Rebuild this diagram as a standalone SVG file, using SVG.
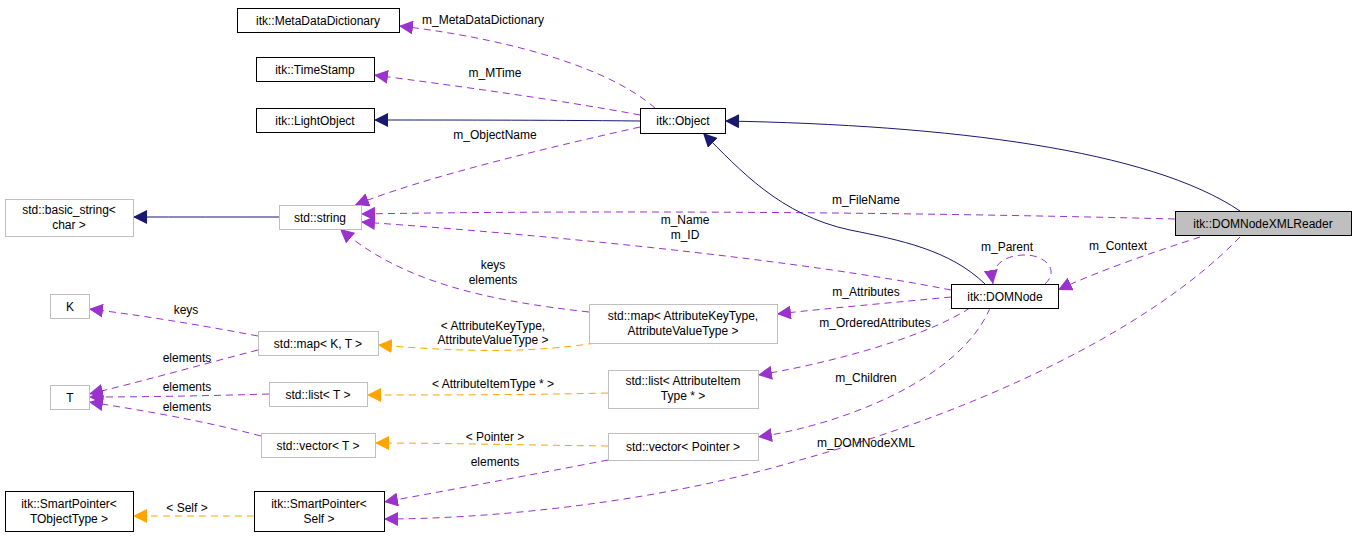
<svg xmlns="http://www.w3.org/2000/svg" width="1356" height="542" viewBox="0 0 1356 542">
<style>
text{font-family:"Liberation Sans",Arial,sans-serif;font-size:12px;fill:#000;text-anchor:middle}
.n{fill:#fff;stroke:#000;stroke-width:1}
.g{fill:#fff;stroke:#bfbfbf;stroke-width:1}
.f{fill:#bfbfbf;stroke:#000;stroke-width:1}
.p{fill:none;stroke:#9a32cd;stroke-dasharray:7,5;marker-end:url(#mp)}
.o{fill:none;stroke:#ffa500;stroke-dasharray:7,5;marker-end:url(#mo)}
.b{fill:none;stroke:#191970;marker-end:url(#mb)}
</style>
<defs>
<marker id="mp" viewBox="0 0 10 10" refX="10" refY="5" markerWidth="14" markerHeight="14" markerUnits="userSpaceOnUse" orient="auto"><path d="M0,0L10,5L0,10z" fill="#9a32cd"/></marker>
<marker id="mo" viewBox="0 0 10 10" refX="10" refY="5" markerWidth="14" markerHeight="14" markerUnits="userSpaceOnUse" orient="auto"><path d="M0,0L10,5L0,10z" fill="#ffa500"/></marker>
<marker id="mb" viewBox="0 0 10 10" refX="10" refY="5" markerWidth="14" markerHeight="14" markerUnits="userSpaceOnUse" orient="auto"><path d="M0,0L10,5L0,10z" fill="#191970"/></marker>
</defs>
<rect width="1356" height="542" fill="#fff"/>
<g id="connectors">
<path class="p" d="M655,108C600,60 480,35 399,26"/>
<path class="p" d="M640,115C560,100 450,85 374,75"/>
<path class="p" d="M640,127C560,145 430,175 355,205"/>
<path class="p" d="M1175,219C900,212 600,210 361,214"/>
<path class="p" d="M951,290C800,260 550,235 361,222"/>
<path class="p" d="M589,312C480,300 400,280 340,229"/>
<path class="p" d="M1045,284C1060,270 1045,255 1025,255C1005,255 990,265 993,284"/>
<path class="p" d="M1200,237C1160,250 1100,270 1058,290"/>
<path class="p" d="M951,297C900,302 830,308 777,314"/>
<path class="p" d="M970,308C920,340 820,365 758,375"/>
<path class="p" d="M990,308C960,380 840,425 758,437"/>
<path class="p" d="M1240,237C1150,330 980,410 800,460C650,505 480,519 384,519"/>
<path class="p" d="M608,460C530,475 450,490 384,502"/>
<path class="p" d="M258,336C200,325 140,315 89,309"/>
<path class="p" d="M258,350C200,365 140,382 89,394"/>
<path class="p" d="M269,394C200,396 140,397 89,397"/>
<path class="p" d="M261,436C200,420 140,410 89,402"/>
<path class="o" d="M595,343C520,355 440,350 378,345"/>
<path class="o" d="M608,393C520,395 440,395 367,395"/>
<path class="o" d="M608,446C520,445 440,443 375,443"/>
<path class="o" d="M254,516C210,516 170,516 133,516"/>
<path class="b" d="M640,121C540,120 440,120 374,120"/>
<path class="b" d="M1240,211C1150,150 950,125 725,121"/>
<path class="b" d="M985,284C950,250 900,240 850,230C780,215 740,170 703,133"/>
<path class="b" d="M279,217C230,217 180,217 133,217"/>
<text x="483" y="24">m_MetaDataDictionary</text>
<text x="495" y="77">m_MTime</text>
<text x="495" y="139">m_ObjectName</text>
<text x="866" y="204">m_FileName</text>
<text x="685" y="224">m_Name</text>
<text x="685" y="239">m_ID</text>
<text x="493" y="269">keys</text>
<text x="493" y="284">elements</text>
<text x="1007" y="251">m_Parent</text>
<text x="1118" y="250">m_Context</text>
<text x="866" y="296">m_Attributes</text>
<text x="875" y="327">m_OrderedAttributes</text>
<text x="866" y="382">m_Children</text>
<text x="866" y="447">m_DOMNodeXML</text>
<text x="495" y="466">elements</text>
<text x="186" y="314">keys</text>
<text x="187" y="362">elements</text>
<text x="187" y="391">elements</text>
<text x="187" y="411">elements</text>
<text x="493" y="330">&lt; AttributeKeyType,</text>
<text x="493" y="344">AttributeValueType &gt;</text>
<text x="493" y="388">&lt; AttributeItemType * &gt;</text>
<text x="495" y="441">&lt; Pointer &gt;</text>
<text x="187" y="512">&lt; Self &gt;</text>
</g>
<g id="MetaDataDictionary"><rect class="n" x="237.5" y="8.5" width="162" height="24"/><text x="318" y="25">itk::MetaDataDictionary</text></g>
<g id="TimeStamp"><rect class="n" x="256.5" y="57.5" width="118" height="24"/><text x="315" y="74">itk::TimeStamp</text></g>
<g id="LightObject"><rect class="n" x="256.5" y="108.5" width="118" height="24"/><text x="315" y="125">itk::LightObject</text></g>
<g id="Object"><rect class="n" x="640.5" y="108.5" width="85" height="25"/><text x="683" y="125">itk::Object</text></g>
<g id="basic_string"><rect class="g" x="5.5" y="199.5" width="128" height="37"/><text x="69" y="214">std::basic_string&lt;</text><text x="69" y="229">char &gt;</text></g>
<g id="string"><rect class="g" x="279.5" y="205.5" width="82" height="24"/><text x="320" y="222">std::string</text></g>
<g id="DOMNodeXMLReader"><rect class="f" x="1175.5" y="211.5" width="176" height="24"/><text x="1263" y="228">itk::DOMNodeXMLReader</text></g>
<g id="DOMNode"><rect class="n" x="951.5" y="284.5" width="107" height="24"/><text x="1005" y="301">itk::DOMNode</text></g>
<g id="K"><rect class="g" x="50.5" y="294.5" width="39" height="24"/><text x="70" y="311">K</text></g>
<g id="mapKT"><rect class="g" x="258.5" y="331.5" width="120" height="24"/><text x="318" y="348">std::map&lt; K, T &gt;</text></g>
<g id="mapAttr"><rect class="g" x="589.5" y="304.5" width="188" height="39"/><text x="683" y="320">std::map&lt; AttributeKeyType,</text><text x="683" y="335">AttributeValueType &gt;</text></g>
<g id="T"><rect class="g" x="50.5" y="385.5" width="39" height="24"/><text x="70" y="402">T</text></g>
<g id="listT"><rect class="g" x="269.5" y="382.5" width="98" height="24"/><text x="318" y="399">std::list&lt; T &gt;</text></g>
<g id="listAttr"><rect class="g" x="608.5" y="370.5" width="150" height="38"/><text x="683" y="385">std::list&lt; AttributeItem</text><text x="683" y="400">Type * &gt;</text></g>
<g id="vectorT"><rect class="g" x="261.5" y="433.5" width="114" height="24"/><text x="318" y="450">std::vector&lt; T &gt;</text></g>
<g id="vectorPointer"><rect class="g" x="608.5" y="433.5" width="150" height="27"/><text x="683" y="451">std::vector&lt; Pointer &gt;</text></g>
<g id="SmartPointerT"><rect class="n" x="5.5" y="491.5" width="128" height="40"/><text x="69" y="508">itk::SmartPointer&lt;</text><text x="69" y="523">TObjectType &gt;</text></g>
<g id="SmartPointerSelf"><rect class="n" x="254.5" y="491.5" width="130" height="40"/><text x="319" y="508">itk::SmartPointer&lt;</text><text x="319" y="523">Self &gt;</text></g>
</svg>
